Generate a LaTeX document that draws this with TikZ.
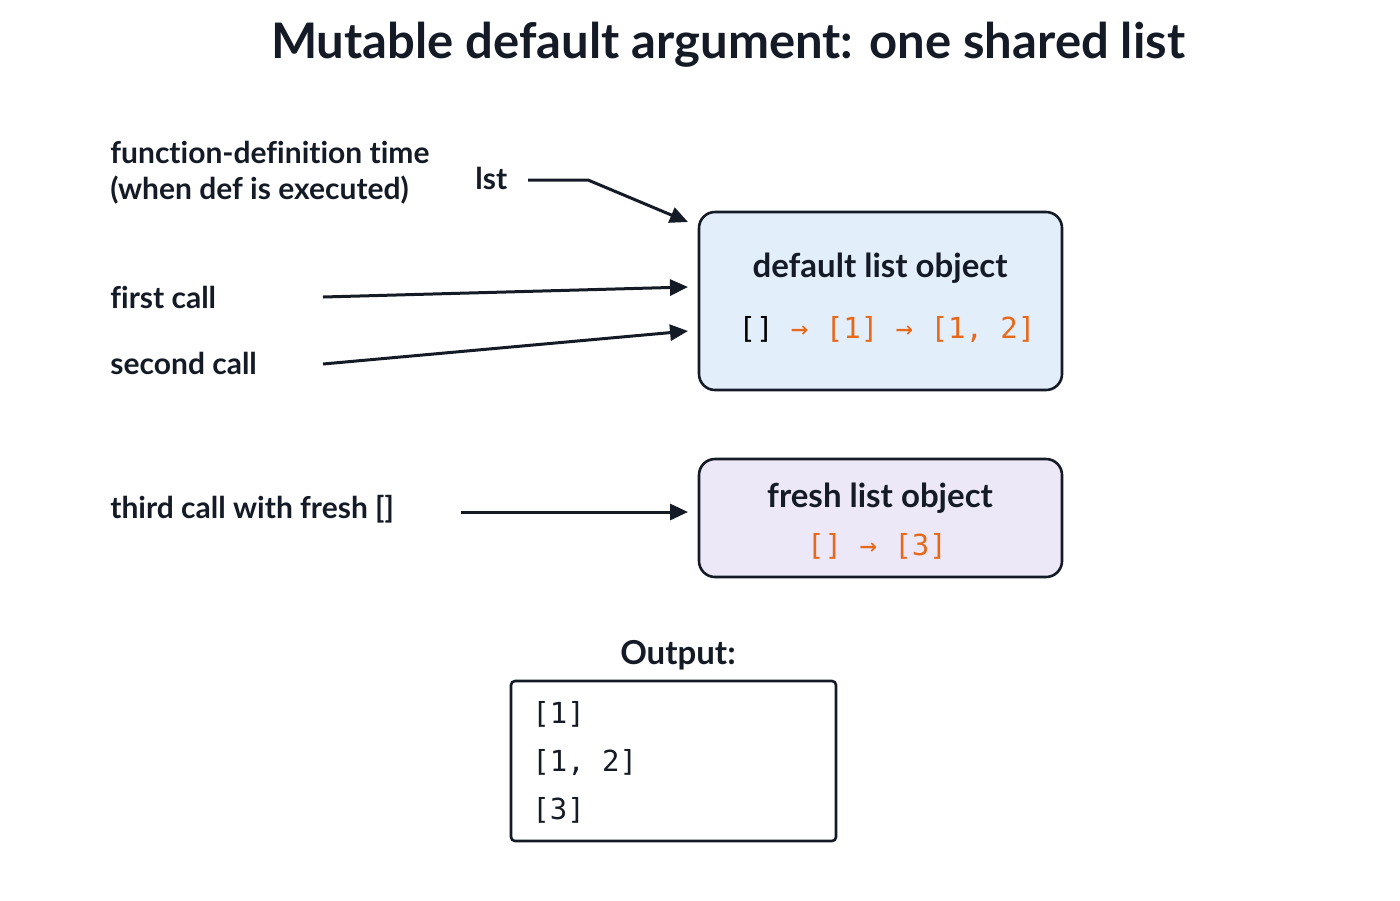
\documentclass[tikz,border=0pt]{standalone}
\usepackage{fontspec}
\setmainfont{Lato}[Ligatures={NoCommon}]
\setmonofont{DejaVu Sans Mono}
\usetikzlibrary{arrows.meta}
\definecolor{ink}{HTML}{151B26}
\definecolor{org}{HTML}{E8681A}
\definecolor{bluef}{HTML}{E3EEFB}
\definecolor{purf}{HTML}{ECE8F8}
\begin{document}
\begin{tikzpicture}[x=0.5pt,y=-0.5pt,
  lbl/.style={anchor=west,inner sep=0,font=\fontsize{15}{18}\selectfont\bfseries,text=ink},
  arr/.style={draw=ink,line width=1.5pt,-{Triangle[length=9pt,width=8pt]}},
  box/.style={draw=ink,line width=1.3pt,rounded corners=8pt},
  mono/.style={font=\fontsize{14.5}{17}\ttfamily,inner sep=0}]
\useasboundingbox (0,0) rectangle (1400,900);
\node[font=\fontsize{24.5}{28}\selectfont\bfseries,text=ink] (title) at (728,45) {Mutable default argument: one shared list};
\node[lbl] (def1) at (110,152) {function-definition time};
\node[lbl] (def2) at (110,190) {(when def is executed)};
\node[lbl] (lst) at (475,178) {lst};
\draw[box,fill=bluef] (699,212) rectangle (1062,390);
\node[font=\fontsize{16.5}{19}\selectfont\bfseries,text=ink] (dtitle) at (880,268) {default list object};
\node[mono] (dseq) at (887,330) {[] \textcolor{org}{→ [1] → [1, 2]}};
\coordinate (dtop) at (688,222);
\coordinate (d1) at (688,287);
\coordinate (d2) at (688,331);
\coordinate (lstE) at (528,180);
\coordinate (lstK) at (588,180);
\draw[arr] (lstE) -- (lstK) -- (dtop);
\node[lbl] (first) at (110,297) {first call};
\node[lbl] (second) at (110,363) {second call};
\coordinate (fs) at (323,297);
\coordinate (ss) at (323,364);
\draw[arr] (fs) -- (d1);
\draw[arr] (ss) -- (d2);
\draw[box,fill=purf] (699,459) rectangle (1062,577);
\node[font=\fontsize{16.5}{19}\selectfont\bfseries,text=ink] (ftitle) at (880,498) {fresh list object};
\node[mono,text=org] (fseq) at (877,546) {[] → [3]};
\node[lbl] (third) at (110,509) {third call with fresh []};
\coordinate (ts) at (461,512);
\coordinate (te) at (688,512);
\draw[arr] (ts) -- (te);
\node[font=\fontsize{16.5}{19}\selectfont\bfseries,text=ink] (out) at (678,655) {Output:};
\draw[draw=ink,line width=1.3pt,rounded corners=2pt] (511,681) rectangle (836,841);
\node[mono,anchor=west,text=ink] (o1) at (532,714) {[1]};
\node[mono,anchor=west,text=ink] (o2) at (532,762) {[1, 2]};
\node[mono,anchor=west,text=ink] (o3) at (532,810) {[3]};
\end{tikzpicture}
\end{document}
